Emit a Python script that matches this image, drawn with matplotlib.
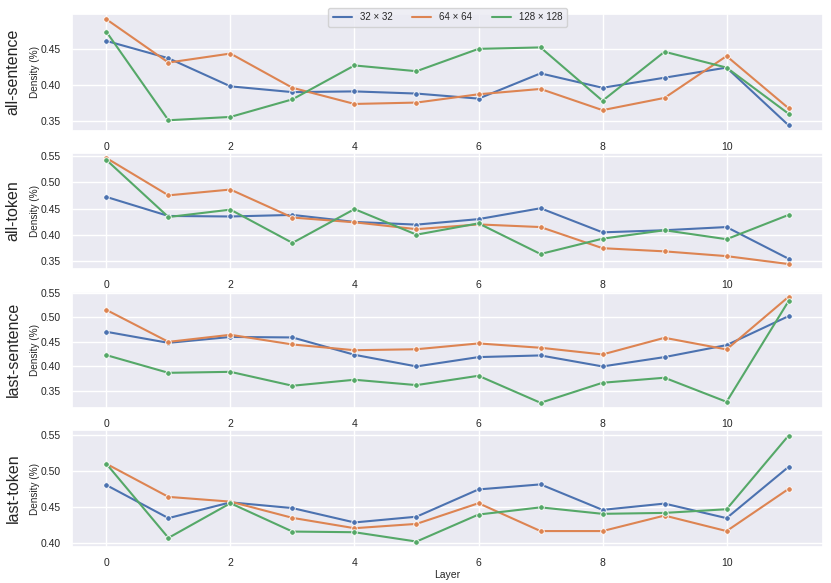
import matplotlib
matplotlib.use("Agg")
import matplotlib.pyplot as plt
from matplotlib.lines import Line2D
import seaborn as sns
import numpy as np

layers = list(range(12))
sizes = ["32 × 32", "64 × 64", "128 × 128"]
rows = ["all-sentence", "all-token", "last-sentence", "last-token"]

all_sentence_32 = [0.461, 0.437, 0.398, 0.390, 0.391, 0.388, 0.381, 0.416, 0.396, 0.410, 0.424, 0.344]
all_sentence_64 = [0.491, 0.431, 0.4435, 0.396, 0.3736, 0.3755, 0.387, 0.3944, 0.365, 0.382, 0.440, 0.3676]
all_sentence_128 = [0.4736, 0.351, 0.3556, 0.380, 0.427, 0.419, 0.450, 0.452, 0.378, 0.446, 0.424, 0.360]

all_token_32 = [0.472, 0.436, 0.435, 0.438, 0.4247, 0.4196, 0.430, 0.4506, 0.405, 0.409, 0.415, 0.355]
all_token_64 = [0.5456, 0.475, 0.486, 0.433, 0.424, 0.411, 0.420, 0.415, 0.375, 0.369, 0.360, 0.345]
all_token_128 = [0.542, 0.434, 0.448, 0.385, 0.449, 0.4006, 0.422, 0.364, 0.393, 0.409, 0.392, 0.438]

last_sentence_32 = [0.4705, 0.448, 0.460, 0.459, 0.4237, 0.400, 0.419, 0.4224, 0.400, 0.419, 0.4434, 0.5024]
last_sentence_64 = [0.515, 0.450, 0.4644, 0.4447, 0.433, 0.435, 0.4468, 0.438, 0.4244, 0.4583, 0.4346, 0.5417]
last_sentence_128 = [0.423, 0.387, 0.389, 0.3607, 0.3729, 0.362, 0.381, 0.326, 0.3668, 0.377, 0.328, 0.533]

last_token_32 = [0.480, 0.434, 0.456, 0.448, 0.428, 0.436, 0.474, 0.481, 0.4455, 0.4543, 0.434, 0.5054]
last_token_64 = [0.5096, 0.4636, 0.457, 0.4344, 0.420, 0.426, 0.4548, 0.416, 0.416, 0.4376, 0.416, 0.4747]
last_token_128 = [0.5096, 0.4065, 0.4548, 0.4153, 0.4144, 0.4014, 0.439, 0.449, 0.440, 0.4413, 0.4464, 0.549]

data = [
    [all_sentence_32, all_sentence_64, all_sentence_128],
    [all_token_32, all_token_64, all_token_128],
    [last_sentence_32, last_sentence_64, last_sentence_128],
    [last_token_32, last_token_64, last_token_128],
]

sns.set_theme(style="darkgrid")
plt.rcParams['font.family'] = ['Liberation Sans', 'DejaVu Sans']
colors = sns.color_palette("deep")[:3]

fig, axes = plt.subplots(4, 1, figsize=(8.31, 5.83), dpi=100)
left, right = 0.087, 0.99
fig.subplots_adjust(left=left, right=right, top=0.976, bottom=0.062, hspace=0.19)

for ax, row, series in zip(axes, rows, data):
    for s, vals, c in zip(sizes, series, colors):
        ax.plot(layers, vals, color=c, marker='o', markersize=4, markeredgecolor='white',
                markeredgewidth=0.6, linewidth=1.5, label=s)
    ax.set_xticks([0, 2, 4, 6, 8, 10])
    ax.tick_params(axis='both', labelsize=7.5, pad=2)
    ax.set_ylabel("Density (%)", fontsize=7.2, labelpad=1)
    pos = ax.get_position()
    fig.text(0.0155, (pos.y0 + pos.y1) / 2, row, rotation=90, fontsize=11.5,
             ha='center', va='center')

axes[-1].set_xlabel("Layer", fontsize=7.5, labelpad=1.5)

handles = [Line2D([], [], color=c, linewidth=1.5) for c in colors]
fig.legend(handles, sizes, loc='upper center', bbox_to_anchor=((left + right) / 2, 0.995), ncol=3,
           fontsize=7, frameon=True, borderpad=0.45)

fig.savefig("out.png", dpi=100)
